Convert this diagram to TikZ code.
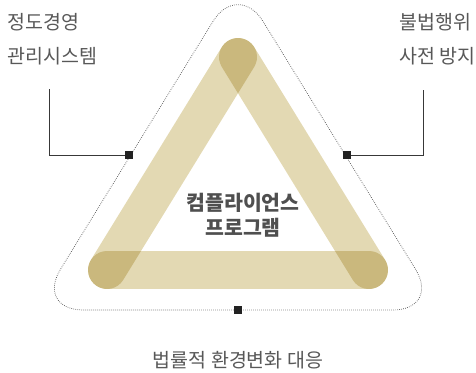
\documentclass[tikz,border=0pt]{standalone}
\usepackage{fontspec}
\newfontfamily\kr{Noto Sans CJK KR}
\usetikzlibrary{calc}
\definecolor{band}{RGB}{227,217,179}
\definecolor{txt}{RGB}{88,88,88}
\definecolor{ink}{RGB}{34,34,34}
\tikzset{
  bandline/.style={draw=band, line width=38pt, line cap=round, blend mode=multiply},
  outline/.style={draw=ink!80, line width=0.7pt, dash pattern=on 0.7pt off 1.3pt, rounded corners=48pt},
  marker/.style={rectangle, fill=ink, minimum size=8pt, inner sep=0pt},
  leader/.style={draw=ink!90, line width=0.9pt},
  sidetext/.style={font=\kr\fontsize{19.5}{23}\selectfont, text=txt, inner sep=0pt},
  centertext/.style={font=\kr\bfseries\fontsize{20.5}{24}\selectfont, text=txt!90!black, inner sep=0pt, align=center},
}
\begin{document}
\begin{tikzpicture}[x=1pt,y=-1pt]
\useasboundingbox (0,0) rectangle (476,372);
\coordinate (A) at (238,57);
\coordinate (B) at (107,270);
\coordinate (C) at (369,270);
\draw[bandline] (A) -- (B);
\draw[bandline] (B) -- (C);
\draw[bandline] (C) -- (A);
\draw[outline] (238,310) -- (35.4,310) -- (238,-19.3) -- (440.6,310) -- cycle;
\node[marker] (ml) at (129,155) {};
\node[marker] (mr) at (347,155) {};
\node[marker] (mb) at (238,310) {};
\coordinate (lt) at (49,89);
\coordinate (rt) at (423,90);
\draw[leader] (lt) |- (ml);
\draw[leader] (rt) |- (mr);
\node[sidetext, anchor=base west] (l1) at (7.5,29.5) {정도경영};
\node[sidetext, anchor=base west] (l2) at (7.5,63.5) {관리시스템};
\node[sidetext, anchor=base west] (r1) at (399.5,29.5) {불법행위};
\node[sidetext, anchor=base west] (r2) at (399,63.5) {사전 방지};
\node[centertext, anchor=base] (c1) at (243,210) {컴플라이언스};
\node[centertext, anchor=base] (c2) at (243,235.5) {프로그램};
\node[sidetext, anchor=base] (b1) at (238,367) {법률적 환경변화 대응};
\end{tikzpicture}
\end{document}
